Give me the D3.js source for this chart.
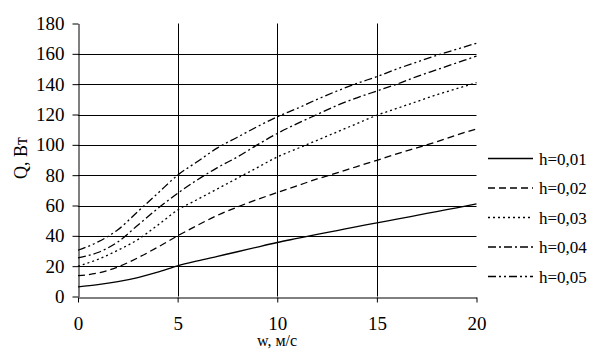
<!DOCTYPE html>
<html>
<head>
<meta charset="utf-8">
<script src="https://cdn.jsdelivr.net/npm/d3@7"></script>
<style>
    body { margin: 0; background: #fff; }
    svg { font-family: "Liberation Serif", "Times New Roman", serif; }
</style>
</head>
<body>
<svg id="chart" width="604" height="364"></svg>
<script>
// w values, m/s
const wValues = [0, 1, 2, 3, 4, 5, 6, 7, 8, 9, 10, 11, 12, 13, 14, 15, 16, 17, 18, 19, 20];

// Q, W for each h
const q001 = [6.4, 7.8, 9.8, 12.5, 16, 20.2, 23.5, 26.5, 29.5, 32.6, 35.6, 38.3, 41, 43.5, 46, 48.6, 51, 53.5, 56, 58.5, 61];
const q002 = [13.7, 15.5, 19.5, 25.5, 32.5, 40, 47, 53.5, 59, 64, 68.5, 73, 77.5, 81.5, 85.7, 89.8, 94, 98, 102, 106.5, 110.5];
const q003 = [20, 24.5, 30.5, 37.5, 47, 57, 64, 71, 78, 85, 92, 97.5, 103, 108.5, 114, 119.5, 124, 128.5, 133, 137, 141];
const q004 = [25.5, 29, 36, 47, 58, 68, 77, 85, 92, 100, 107.5, 114, 120, 126, 131, 135.5, 140, 145, 149.5, 154, 158.5];
const q005 = [30.5, 36, 44, 56, 68, 80, 89, 98, 105, 112, 118.5, 124, 130, 135.5, 140.5, 145, 150, 154.5, 159, 163, 167];

const seriesNames = ["h=0,01", "h=0,02", "h=0,03", "h=0,04", "h=0,05"];
const dashes = [null, "7,4", "2,3", "8,3,2,3", "8,3,2,3,2,3"];

const xTicks = [0, 5, 10, 15, 20];
const yTicks = [0, 20, 40, 60, 80, 100, 120, 140, 160, 180];

const series = [q001, q002, q003, q004, q005].map((vals, i) => ({
    name: seriesNames[i],
    dash: dashes[i],
    points: vals.map((v, j) => ({ w: wValues[j], q: v }))
}));

const svg = d3.select("#chart");

const plot = { left: 78, right: 476.5, top: 23.5, bottom: 296.5 };

const xScale = d3.scaleLinear().domain([0, 20]).range([plot.left, plot.right]);
const yScale = d3.scaleLinear().domain([0, 180]).range([plot.bottom, plot.top]);

// horizontal grid (no line at 180)
svg.append("g")
    .selectAll("line")
    .data(yTicks.filter(d => d > 0 && d < 180))
    .enter()
    .append("line")
    .attr("x1", plot.left)
    .attr("x2", plot.right)
    .attr("y1", d => Math.round(yScale(d)) + 0.5)
    .attr("y2", d => Math.round(yScale(d)) + 0.5)
    .attr("stroke", "#000")
    .attr("stroke-width", 1);

// vertical grid
svg.append("g")
    .selectAll("line")
    .data(xTicks.filter(d => d > 0 && d < 20))
    .enter()
    .append("line")
    .attr("x1", d => Math.round(xScale(d)) + 0.5)
    .attr("x2", d => Math.round(xScale(d)) + 0.5)
    .attr("y1", plot.top)
    .attr("y2", plot.bottom)
    .attr("stroke", "#000")
    .attr("stroke-width", 1);

// x axis
const xAxis = svg.append("g")
    .attr("transform", "translate(0," + (Math.round(yScale(0)) + 0.5) + ")")
    .call(d3.axisBottom(xScale).tickValues(xTicks).tickSize(5).tickPadding(14).tickSizeOuter(0));
xAxis.select(".domain").attr("stroke", "#000");
xAxis.selectAll("text")
    .style("font-family", "Liberation Serif")
    .style("font-size", "19px")
    .attr("fill", "#000");

// y axis
const yAxis = svg.append("g")
    .attr("transform", "translate(" + (Math.round(xScale(0)) + 0.5) + ",0)")
    .call(d3.axisLeft(yScale).tickValues(yTicks).tickSize(6).tickPadding(8).tickSizeOuter(0));
yAxis.select(".domain").attr("stroke", "#000");
yAxis.selectAll("text")
    .style("font-family", "Liberation Serif")
    .style("font-size", "19px")
    .attr("fill", "#000");

// axis titles
svg.append("text")
    .attr("x", 277)
    .attr("y", 346)
    .attr("text-anchor", "middle")
    .style("font-size", "16px")
    .text("w, м/с");

svg.append("text")
    .attr("transform", "translate(27,158) rotate(-90)")
    .attr("text-anchor", "middle")
    .style("font-size", "18px")
    .text("Q, Вт");

// curves
const line = d3.line()
    .x(d => xScale(d.w))
    .y(d => yScale(d.q))
    .curve(d3.curveMonotoneX);

svg.append("g")
    .selectAll("path")
    .data(series)
    .enter()
    .append("path")
    .attr("d", d => line(d.points))
    .attr("fill", "none")
    .attr("stroke", "#000")
    .attr("stroke-width", 1.3)
    .attr("stroke-dasharray", d => d.dash);

// legend
const legend = svg.append("g")
    .selectAll("g")
    .data(series)
    .enter()
    .append("g")
    .attr("transform", (d, i) => "translate(488," + (158.5 + i * 29.5) + ")");

legend.append("line")
    .attr("x1", 0)
    .attr("x2", 45)
    .attr("stroke", "#000")
    .attr("stroke-width", 1.3)
    .attr("stroke-dasharray", d => d.dash);

legend.append("text")
    .attr("x", 51)
    .attr("y", 6)
    .style("font-size", "17px")
    .text(d => d.name);
</script>
</body>
</html>
